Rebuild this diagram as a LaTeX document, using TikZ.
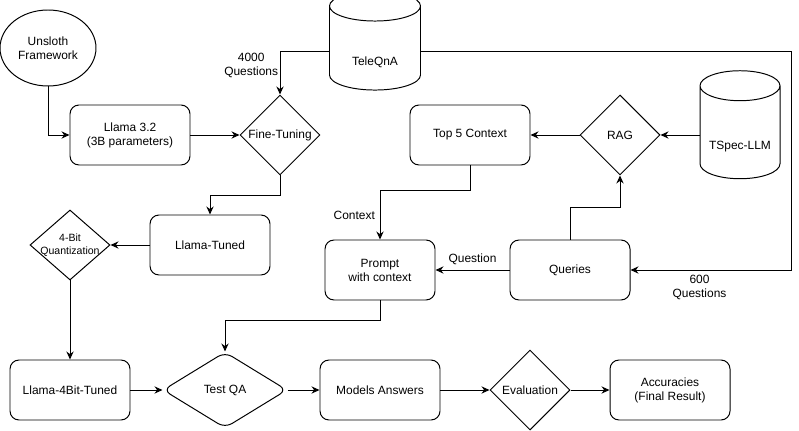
\documentclass[tikz,border=0pt]{standalone}
\usepackage{fontspec}
\setmainfont{Liberation Sans}
\usetikzlibrary{arrows.meta, shapes.geometric}

\begin{document}
\begin{tikzpicture}[node distance=37.5mm, font=\fontsize{8.5}{10}\selectfont, line width=0.7pt, >={Stealth[length=2mm, width=1.8mm]},
  block/.style={rectangle, draw, rounded corners=2.25mm, minimum width=30mm, minimum height=15mm, align=center, inner sep=1pt},
  decision/.style={diamond, draw, minimum width=20mm, minimum height=20mm, aspect=1, inner sep=0pt, align=center},
  database/.style={cylinder, draw, shape border rotate=90, aspect=3.2, align=center},
  startnode/.style={ellipse, draw, minimum width=24mm, minimum height=19mm, inner sep=0pt, align=center}]

  \useasboundingbox (0,0) rectangle (199.75mm,-107.75mm);

  \node[startnode] at (12mm,-12mm) (unsloth) {Unsloth\\Framework};
  \node[block] at (32.5mm,-33.75mm) (llama) {Llama 3.2\\(3B parameters)};
  \node[decision, right of=llama] (finetune) {Fine-Tuning};
  \node[block, right of=finetune, node distance=47.5mm] (topfive) {Top 5 Context};
  \node[decision, right of=topfive] (rag) {RAG};
  \node[database, minimum width=20mm, minimum height=27mm, label={[yshift=-2.6mm]center:TSpec-LLM}] at (185mm,-34mm) (tspec) {};
  \node[database, minimum width=22.75mm, minimum height=24.75mm, label={[yshift=-2.6mm]center:TeleQnA}] at (93.75mm,-12.9mm) (teleqna) {};

  \node[block] at (52.5mm,-61.25mm) (tuned) {Llama-Tuned};
  \node[decision, left of=tuned, node distance=35mm, minimum height=17.5mm, label={[align=center, font=\fontsize{7.5}{9}\selectfont]center:4-Bit\\Quantization}] (quant) {};
  \node[block, below of=quant, node distance=36.25mm] (fourbit) {Llama-4Bit-Tuned};
  \node[decision, right of=fourbit, node distance=38.75mm, minimum width=31mm, minimum height=19mm, rounded corners=2mm] (testqa) {Test QA};
  \node[block, right of=testqa, node distance=38.75mm] (answers) {Models Answers};
  \node[decision, right of=answers] (evaluation) {Evaluation};
  \node[block, right of=evaluation, node distance=35mm] (accuracy) {Accuracies\\(Final Result)};
  \node[block, above of=answers, node distance=30mm, minimum width=27.5mm] (prompt) {Prompt\\with context};
  \node[block, right of=prompt, node distance=47.5mm] (queries) {Queries};
  \coordinate (farright) at (197.75mm,-67.5mm);

  \draw[->] (unsloth) |- (llama);
  \draw[->] (llama) -- (finetune);
  \draw[->] (teleqna) -| node[pos=0.5, below left, inner sep=1pt, align=center] {4000\\Questions} (finetune);
  \draw[->] (teleqna) -| (farright) -- node[pos=0.57, below, align=center] {600\\Questions} (queries);
  \draw[->] (tspec.west |- rag) -- (rag);
  \draw[->] (rag) -- (topfive);
  \draw[->] (topfive.south) -- ++(0,-6.25mm) -| node[pos=0.75, left] {Context} (prompt);
  \draw[->] (queries) -- node[above] {Question} (prompt);
  \draw[->] (queries.north) -- ++(0,8mm) -| (rag);
  \draw[->] (finetune.south) -- ++(0,-5mm) -| (tuned);
  \draw[->] (tuned) -- (quant);
  \draw[->] (quant) -- (fourbit);
  \draw[->] (fourbit) -- (testqa);
  \draw[->] (prompt.south) -- ++(0,-5mm) -| (testqa);
  \draw[->] (testqa) -- (answers);
  \draw[->] (answers) -- (evaluation);
  \draw[->] (evaluation) -- (accuracy);

\end{tikzpicture}
\end{document}
